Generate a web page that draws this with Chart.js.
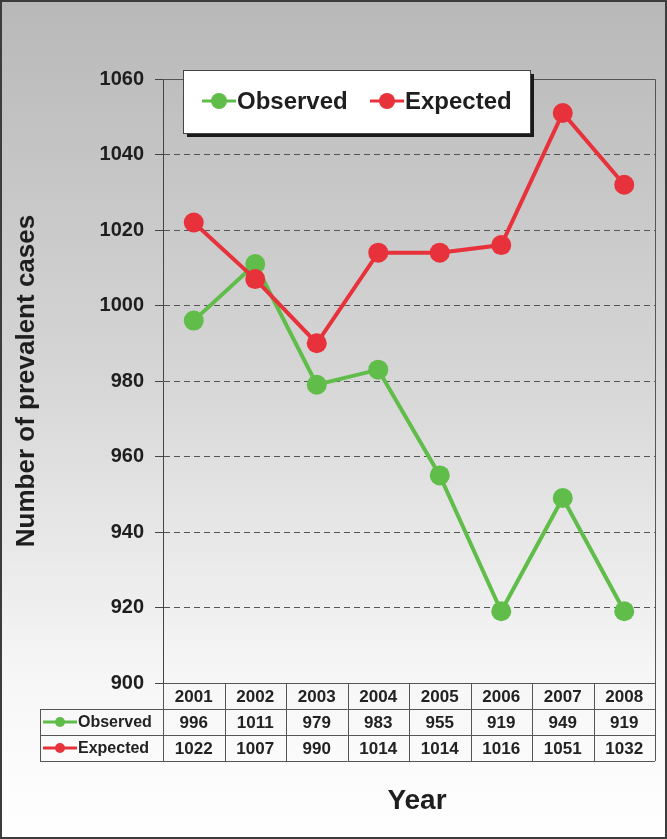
<!DOCTYPE html>
<html>
<head>
<meta charset="utf-8">
<script src="https://cdn.jsdelivr.net/npm/chart.js@4"></script>
<style>
  html, body { margin: 0; padding: 0; background: #fff; }
  #wrap { width: 667px; height: 839px; }
</style>
</head>
<body>
<div id="wrap"><canvas id="prevChart" width="667" height="839"></canvas></div>
<script>
// Data
const years = ['2001', '2002', '2003', '2004', '2005', '2006', '2007', '2008'];
const observed = [996, 1011, 979, 983, 955, 919, 949, 919];
const expected = [1022, 1007, 990, 1014, 1014, 1016, 1051, 1032];
const yMin = 900, yMax = 1060, yStep = 20;

const green = '#60bd4a';
const red = '#e8323b';
const font = '"Liberation Sans", Arial, sans-serif';

// background gradient
const backgroundPlugin = {
  id: 'bg',
  beforeDraw(chart) {
    const ctx = chart.ctx;
    const g = ctx.createLinearGradient(0, 0, 0, chart.height);
    g.addColorStop(0, '#b8b8b8');
    g.addColorStop(0.45, '#d6d6d6');
    g.addColorStop(0.8, '#f6f6f6');
    g.addColorStop(1, '#ffffff');
    ctx.save();
    ctx.fillStyle = g;
    ctx.fillRect(0, 0, chart.width, chart.height);
    ctx.restore();
  }
};

function drawMarker(ctx, x, y, len, r, color) {
  ctx.strokeStyle = color;
  ctx.lineWidth = 3;
  ctx.beginPath();
  ctx.moveTo(x, y);
  ctx.lineTo(x + len, y);
  ctx.stroke();
  ctx.fillStyle = color;
  ctx.beginPath();
  ctx.arc(x + len / 2, y, r, 0, Math.PI * 2);
  ctx.fill();
}

// plot frame, data table, legend box and x title
const extrasPlugin = {
  id: 'extras',
  afterDraw(chart) {
    const ctx = chart.ctx;
    const area = chart.chartArea;
    const xs = chart.scales.x;
    const colW = (area.right - area.left) / years.length;
    ctx.save();

    // plot frame (top + right)
    ctx.strokeStyle = '#555';
    ctx.lineWidth = 1;
    ctx.beginPath();
    ctx.moveTo(area.left, area.top + 0.5);
    ctx.lineTo(area.right + 0.5, area.top + 0.5);
    ctx.lineTo(area.right + 0.5, area.bottom);
    ctx.stroke();

    // data table
    const rowH = 26;
    const t0 = area.bottom;
    const labelLeft = 40;
    ctx.strokeStyle = '#555';
    ctx.beginPath();
    ctx.moveTo(area.left, t0 + 0.5); ctx.lineTo(area.right, t0 + 0.5);
    for (let r = 1; r <= 3; r++) {
      ctx.moveTo(labelLeft, t0 + r * rowH + 0.5);
      ctx.lineTo(area.right, t0 + r * rowH + 0.5);
    }
    ctx.moveTo(labelLeft + 0.5, t0 + rowH); ctx.lineTo(labelLeft + 0.5, t0 + 3 * rowH);
    for (let i = 0; i <= years.length; i++) {
      const x = Math.round(area.left + i * colW) + 0.5;
      ctx.moveTo(x, t0); ctx.lineTo(x, t0 + 3 * rowH);
    }
    ctx.stroke();

    ctx.fillStyle = '#222';
    ctx.textAlign = 'center';
    ctx.textBaseline = 'middle';
    ctx.font = 'bold 17px ' + font;
    years.forEach((y, i) => {
      const cx = xs.getPixelForValue(i);
      ctx.fillText(y, cx, t0 + rowH / 2 + 1);
      ctx.fillText(String(observed[i]), cx, t0 + rowH * 1.5 + 1);
      ctx.fillText(String(expected[i]), cx, t0 + rowH * 2.5 + 1);
    });
    // row labels
    drawMarker(ctx, labelLeft + 3, t0 + rowH * 1.5, 34, 5, green);
    drawMarker(ctx, labelLeft + 3, t0 + rowH * 2.5, 34, 5, red);
    ctx.fillStyle = '#222';
    ctx.textAlign = 'left';
    ctx.font = 'bold 16px ' + font;
    ctx.fillText(chart.data.datasets[1].label, labelLeft + 38, t0 + rowH * 1.5 + 1);
    ctx.fillText(chart.data.datasets[0].label, labelLeft + 38, t0 + rowH * 2.5 + 1);

    // x title
    ctx.textAlign = 'center';
    ctx.fillStyle = '#1e1e1e';
    ctx.font = 'bold 28px ' + font;
    ctx.fillText('Year', 417, 801);

    // legend box with shadow
    const lx = 183, ly = 70, lw = 347, lh = 63;
    ctx.fillStyle = '#1a1a1a';
    ctx.fillRect(lx + 4, ly + 4, lw, lh);
    ctx.fillStyle = '#ffffff';
    ctx.fillRect(lx, ly, lw, lh);
    ctx.strokeStyle = '#444';
    ctx.lineWidth = 1;
    ctx.strokeRect(lx + 0.5, ly + 0.5, lw, lh);
    drawMarker(ctx, 202, 101, 34, 8, green);
    drawMarker(ctx, 370, 101, 34, 8, red);
    ctx.fillStyle = '#1e1e1e';
    ctx.textAlign = 'left';
    ctx.font = 'bold 24px ' + font;
    ctx.fillText(chart.data.datasets[1].label, 237, 102);
    ctx.fillText(chart.data.datasets[0].label, 405, 102);

    // outer frame
    ctx.strokeStyle = '#3c3c3c';
    ctx.lineWidth = 2;
    ctx.strokeRect(1, 1, chart.width - 2, chart.height - 2);
    ctx.restore();
  }
};

new Chart(document.getElementById('prevChart').getContext('2d'), {
  type: 'line',
  data: {
    labels: years,
    datasets: [{
      label: 'Expected',
      data: expected,
      borderColor: red,
      backgroundColor: red,
      borderWidth: 4,
      pointRadius: 10,
      pointBorderWidth: 0,
      tension: 0
    }, {
      label: 'Observed',
      data: observed,
      borderColor: green,
      backgroundColor: green,
      borderWidth: 4,
      pointRadius: 10,
      pointBorderWidth: 0,
      tension: 0
    }]
  },
  options: {
    responsive: false,
    animation: false,
    layout: {
      padding: { left: 0, top: 79, right: 12, bottom: 156 }
    },
    plugins: {
      legend: { display: false },
      tooltip: { enabled: false }
    },
    scales: {
      x: {
        display: false,
        offset: true
      },
      y: {
        min: yMin,
        max: yMax,
        afterFit: function(scale) {
          scale.width = 163;
        },
        ticks: {
          stepSize: yStep,
          padding: 11,
          color: '#1e1e1e',
          font: { family: font, size: 20, weight: 'bold' },
          callback: function(value) {
            return String(value);
          }
        },
        grid: {
          color: '#555',
          lineWidth: 1,
          tickLength: 8,
          tickColor: '#444'
        },
        border: {
          display: true,
          color: '#444',
          width: 1,
          dash: [6, 4]
        },
        title: {
          display: true,
          text: 'Number of prevalent cases',
          color: '#1e1e1e',
          font: { family: font, size: 26, weight: 'bold' },
          padding: { top: 11, bottom: 0 }
        }
      }
    }
  },
  plugins: [backgroundPlugin, extrasPlugin]
});
</script>
</body>
</html>
